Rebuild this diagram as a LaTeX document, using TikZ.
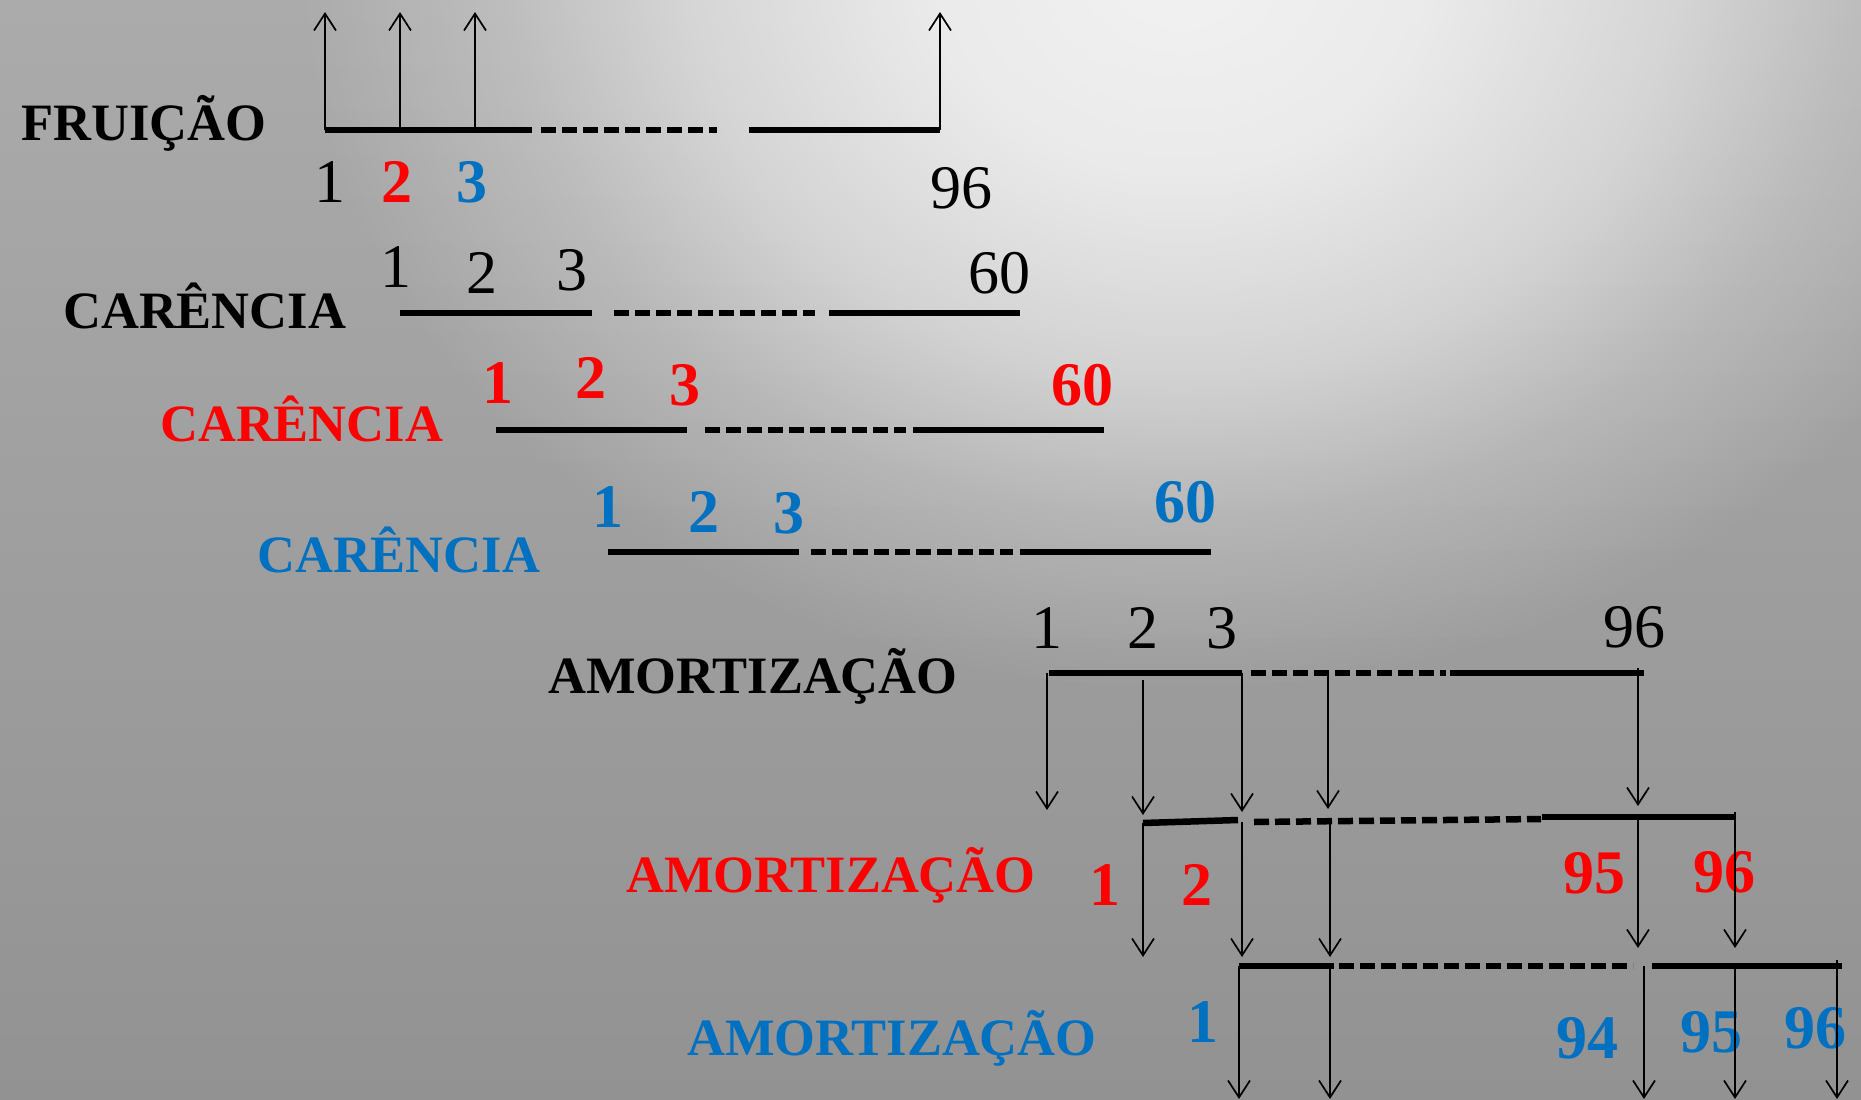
\documentclass[tikz,border=0pt]{standalone}
\usepackage{fontspec}
\setmainfont{Liberation Serif}
\usetikzlibrary{arrows.meta,fadings}
\definecolor{bgtop}{HTML}{ABABAB}
\definecolor{bgbot}{HTML}{929292}
\definecolor{hlcol}{HTML}{F2F2F2}
\definecolor{myred}{HTML}{FF0000}
\definecolor{myblue}{HTML}{0070C0}
\pgfdeclareradialshading{hlshade}{\pgfpointorigin}{color(0bp)=(white); color(7bp)=(white!90!black); color(14bp)=(white!60!black); color(19bp)=(white!27!black); color(25bp)=(black); color(50bp)=(black)}
\pgfdeclarefading{hlfade}{\pgfuseshading{hlshade}}
\tikzset{
  lab/.style={anchor=base west, inner sep=0pt, font=\fontsize{52.5}{60}\selectfont\bfseries},
  dig/.style={anchor=base, inner sep=0pt, font=\fontsize{62}{70}\selectfont},
  bdig/.style={anchor=base, inner sep=0pt, font=\fontsize{62}{70}\selectfont\bfseries},
  axis/.style={line width=6.5pt, line cap=butt},
  dsh/.style={line width=6.5pt, line cap=butt, dash pattern=on 15pt off 6pt},
  arr/.style={line width=1.7pt, -{Straight Barb[length=17pt,width=22pt]}}
}
\begin{document}
\begin{tikzpicture}[x=1pt,y=-1pt]
\useasboundingbox (0,0) rectangle (1861,1100);
\begin{scope}
\clip (0,0) rectangle (1861,1100);
\shade[top color=bgtop, bottom color=bgbot] (0,0) rectangle (1861,1100);
\fill[hlcol, path fading=hlfade] (1180,-30) ellipse [x radius=880, y radius=720];
\end{scope}

% ---------- FRUICAO ----------
\node[lab] (tfr) at (21,140) {FRUIÇÃO};
\coordinate (fa) at (325,130); \coordinate (fb) at (532,130);
\coordinate (fc) at (541,130); \coordinate (fd) at (717,130);
\coordinate (fe) at (749,130); \coordinate (ff) at (940,130);
\coordinate (f2) at (400,130); \coordinate (f3) at (475,130);
\coordinate (fa') at (325,12); \coordinate (f2') at (400,12);
\coordinate (f3') at (475,12); \coordinate (ff') at (940,12);
\draw[axis] (fa) -- (fb); \draw[dsh] (fc) -- (fd); \draw[axis] (fe) -- (ff);
\draw[arr] (fa) -- (fa'); \draw[arr] (f2) -- (f2');
\draw[arr] (f3) -- (f3'); \draw[arr] (ff) -- (ff');
\node[dig] (fn1) at (330,202) {1};
\node[bdig, text=myred] (fn2) at (397,202) {2};
\node[bdig, text=myblue] (fn3) at (472,202) {3};
\node[dig] (fn96) at (961,208) {96};

% ---------- CARENCIA black ----------
\node[lab] (tc1) at (63,328) {CARÊNCIA};
\coordinate (ca) at (400,313); \coordinate (cb) at (592,313);
\coordinate (cc) at (614,313); \coordinate (cd) at (815,313);
\coordinate (ce) at (829,313); \coordinate (cf) at (1020,313);
\draw[axis] (ca) -- (cb); \draw[dsh] (cc) -- (cd); \draw[axis] (ce) -- (cf);
\node[dig] (cn1) at (396,287) {1};
\node[dig] (cn2) at (482,293) {2};
\node[dig] (cn3) at (572,290) {3};
\node[dig] (cn60) at (999,293) {60};

% ---------- CARENCIA red ----------
\node[lab, text=myred] (tc2) at (160,441) {CARÊNCIA};
\coordinate (ra) at (496,430); \coordinate (rb) at (687,430);
\coordinate (rc) at (705,430); \coordinate (rd) at (906,430);
\coordinate (re) at (913,430); \coordinate (rf) at (1104,430);
\draw[axis] (ra) -- (rb); \draw[dsh] (rc) -- (rd); \draw[axis] (re) -- (rf);
\node[bdig, text=myred] (rn1) at (498,403) {1};
\node[bdig, text=myred] (rn2) at (591,398) {2};
\node[bdig, text=myred] (rn3) at (685,405) {3};
\node[bdig, text=myred] (rn60) at (1082,405) {60};

% ---------- CARENCIA blue ----------
\node[lab, text=myblue] (tc3) at (257,572) {CARÊNCIA};
\coordinate (ba) at (608,552); \coordinate (bb) at (799,552);
\coordinate (bc) at (811,552); \coordinate (bd) at (1013,552);
\coordinate (be) at (1020,552); \coordinate (bf) at (1211,552);
\draw[axis] (ba) -- (bb); \draw[dsh] (bc) -- (bd); \draw[axis] (be) -- (bf);
\node[bdig, text=myblue] (bn1) at (608,527) {1};
\node[bdig, text=myblue] (bn2) at (704,532) {2};
\node[bdig, text=myblue] (bn3) at (789,533) {3};
\node[bdig, text=myblue] (bn60) at (1185,522) {60};

% ---------- AMORTIZACAO black ----------
\node[lab] (ta1) at (548,693) {AMORTIZAÇÃO};
\coordinate (aa) at (1049,673); \coordinate (ab) at (1242,673);
\coordinate (ac) at (1251,673); \coordinate (ad) at (1446,673);
\coordinate (ae) at (1450,673); \coordinate (af) at (1644,673);
\draw[axis] (aa) -- (ab); \draw[dsh] (ac) -- (ad); \draw[axis] (ae) -- (af);
\node[dig] (an1) at (1047,648) {1};
\node[dig] (an2) at (1143,648) {2};
\node[dig] (an3) at (1222,648) {3};
\node[dig] (an96) at (1634,647) {96};
\coordinate (as1) at (1047,673); \coordinate (ae1) at (1047,810);
\coordinate (as2) at (1143,680); \coordinate (ae2) at (1143,815);
\coordinate (as3) at (1242,673); \coordinate (ae3) at (1242,812);
\coordinate (as4) at (1328,673); \coordinate (ae4) at (1328,809);
\coordinate (as5) at (1638,668); \coordinate (ae5) at (1638,806);
\draw[arr] (as1) -- (ae1); \draw[arr] (as2) -- (ae2); \draw[arr] (as3) -- (ae3);
\draw[arr] (as4) -- (ae4); \draw[arr] (as5) -- (ae5);

% ---------- AMORTIZACAO red ----------
\node[lab, text=myred] (ta2) at (626,892) {AMORTIZAÇÃO};
\coordinate (ma) at (1143,823); \coordinate (mb) at (1238,820);
\coordinate (mc) at (1254,822); \coordinate (md) at (1541,819);
\coordinate (me) at (1542,817); \coordinate (mf) at (1735,817);
\draw[axis] (ma) -- (mb); \draw[dsh] (mc) -- (md); \draw[axis] (me) -- (mf);
\node[bdig, text=myred] (mn1) at (1105,905) {1};
\node[bdig, text=myred] (mn2) at (1197,905) {2};
\node[bdig, text=myred] (mn95) at (1594,893) {95};
\node[bdig, text=myred] (mn96) at (1724,892) {96};
\coordinate (ms1) at (1143,823); \coordinate (me1) at (1143,957);
\coordinate (ms2) at (1242,822); \coordinate (me2) at (1242,957);
\coordinate (ms3) at (1330,822); \coordinate (me3) at (1330,957);
\coordinate (ms4) at (1638,817); \coordinate (me4) at (1638,948);
\coordinate (ms5) at (1735,812); \coordinate (me5) at (1735,948);
\draw[arr] (ms1) -- (me1); \draw[arr] (ms2) -- (me2); \draw[arr] (ms3) -- (me3);
\draw[arr] (ms4) -- (me4); \draw[arr] (ms5) -- (me5);

% ---------- AMORTIZACAO blue ----------
\node[lab, text=myblue] (ta3) at (687,1055) {AMORTIZAÇÃO};
\coordinate (ua) at (1239,966); \coordinate (ub) at (1334,966);
\coordinate (uc) at (1339,966); \coordinate (ud) at (1633,966);
\coordinate (ue) at (1652,966); \coordinate (uf) at (1842,966);
\draw[axis] (ua) -- (ub); \draw[dsh] (uc) -- (ud); \draw[axis] (ue) -- (uf);
\node[bdig, text=myblue] (un1) at (1203,1042) {1};
\node[bdig, text=myblue] (un94) at (1587,1058) {94};
\node[bdig, text=myblue] (un95) at (1711,1052) {95};
\node[bdig, text=myblue] (un96) at (1815,1048) {96};
\coordinate (us1) at (1239,966); \coordinate (ue1) at (1239,1099);
\coordinate (us2) at (1330,966); \coordinate (ue2) at (1330,1099);
\coordinate (us3) at (1644,966); \coordinate (ue3) at (1644,1099);
\coordinate (us4) at (1735,966); \coordinate (ue4) at (1735,1099);
\coordinate (us5) at (1837,960); \coordinate (ue5) at (1837,1099);
\draw[arr] (us1) -- (ue1); \draw[arr] (us2) -- (ue2); \draw[arr] (us3) -- (ue3);
\draw[arr] (us4) -- (ue4); \draw[arr] (us5) -- (ue5);
\end{tikzpicture}
\end{document}
